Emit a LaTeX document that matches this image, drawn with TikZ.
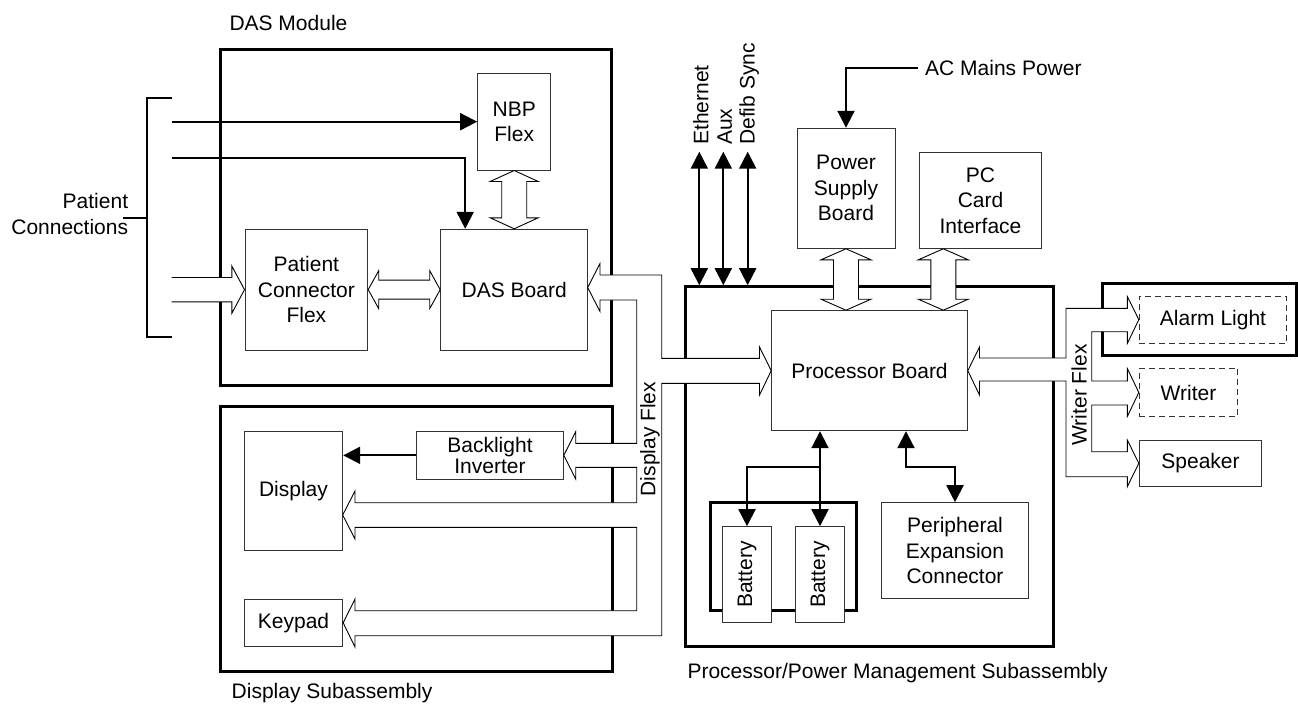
\documentclass[tikz,border=0pt]{standalone}
\usepackage{fontspec}
\setmainfont{Liberation Sans}
\usepackage{graphicx}
\usepackage{tikz}
\usetikzlibrary{arrows.meta,calc}

% hollow flex arrows: (from) (to) head length, head half width, shaft half width
\newcommand{\busv}[5]{\draw[hollow] (#1) -- ([shift={(#4,#3)}]#1) -- ([shift={(#5,#3)}]#1) -- ([shift={(#5,-#3)}]#2) -- ([shift={(#4,-#3)}]#2) -- (#2) -- ([shift={(-#4,-#3)}]#2) -- ([shift={(-#5,-#3)}]#2) -- ([shift={(-#5,#3)}]#1) -- ([shift={(-#4,#3)}]#1) -- cycle;}
\newcommand{\bush}[5]{\draw[hollow] (#1) -- ([shift={(#3,-#4)}]#1) -- ([shift={(#3,-#5)}]#1) -- ([shift={(-#3,-#5)}]#2) -- ([shift={(-#3,-#4)}]#2) -- (#2) -- ([shift={(-#3,#4)}]#2) -- ([shift={(-#3,#5)}]#2) -- ([shift={(#3,#5)}]#1) -- ([shift={(#3,#4)}]#1) -- cycle;}
\newcommand{\busin}[5]{\draw[hollow] ([shift={(0,-#5)}]#1) -- ([shift={(-#3,-#5)}]#2) -- ([shift={(-#3,-#4)}]#2) -- (#2) -- ([shift={(-#3,#4)}]#2) -- ([shift={(-#3,#5)}]#2) -- ([shift={(0,#5)}]#1);}

\begin{document}
\begin{tikzpicture}[x=1pt,y=-1pt,every node/.append style={font=\fontsize{21}{25.5}\selectfont},>={Triangle[length=17pt,width=17pt]}]
		\tikzstyle{block} = [rectangle,draw=black!80,line width=1pt,fill=white,inner sep=0pt,align=center]
		\tikzstyle{frame} = [rectangle,draw=black,line width=3pt,inner sep=0pt]
		\tikzstyle{lbl} = [inner sep=0pt]
		\tikzstyle{link} = [line width=2pt]
		\tikzstyle{hollow} = [draw=black,fill=white,line width=0.9pt]
		
		\useasboundingbox (0,0) rectangle (1298,706);
		
		\node[frame,minimum width=391.7pt,minimum height=335pt] (dasmod) at (415.85,217.5) {};
		\node[frame,minimum width=392pt,minimum height=265.7pt] (dispsub) at (416,538.85) {};
		\node[frame,minimum width=367.6pt,minimum height=360pt] (procsub) at (869.5,466.7) {};
		\node[frame,minimum width=146.7pt,minimum height=108pt] (bathold) at (783.35,556.7) {};
		\node[frame,minimum width=194pt,minimum height=71.7pt] (alarmbox) at (1199.7,319.15) {};
		
		\node[lbl,anchor=west] (dasl) at (229.3,22.7) {DAS Module};
		\node[lbl,anchor=west] (displ) at (231.5,693) {Display Subassembly};
		\node[lbl,anchor=west] (procl) at (687.3,673.3) {Processor/Power Management Subassembly};
		\node[lbl,align=right,anchor=east] (pc) at (128.3,214.2) {Patient\\Connections};
		\node[lbl,anchor=west] (ac) at (925,68.3) {AC Mains Power};
		
		\node[block,minimum width=73pt,minimum height=96pt] (nbp) at (514.2,122) {NBP\\Flex};
		\node[block,minimum width=147pt,minimum height=120.7pt] (das) at (514.2,289.65) {DAS Board};
		\node[block,minimum width=122.7pt,minimum height=120.7pt] (pcf) at (306.35,289.65) {Patient\\Connector\\Flex};
		
		\node[block,minimum width=98.4pt,minimum height=119pt] (disp) at (293.5,491.2) {Display};
		\node[block,minimum width=98.4pt,minimum height=47.7pt] (keypad) at (293.5,622.85) {Keypad};
		\node[block,minimum width=146.6pt,minimum height=47.3pt,font=\fontsize{21}{21}\selectfont] (backlight) at (490,455.35) {Backlight\\Inverter};
		
		\node[block,minimum width=98pt,minimum height=120pt] (psb) at (846,188.3) {Power\\Supply\\Board};
		\node[block,minimum width=122.4pt,minimum height=96pt] (pccard) at (980.5,200.3) {PC\\Card\\Interface};
		\node[block,minimum width=195.6pt,minimum height=120pt] (proc) at (869.5,370.7) {Processor Board};
		\node[block,minimum width=49.4pt,minimum height=96pt] (bat1) at (747,574.7) {\rotatebox{90}{Battery}};
		\node[block,minimum width=49.4pt,minimum height=96pt] (bat2) at (820,574.7) {\rotatebox{90}{Battery}};
		\node[block,minimum width=146.6pt,minimum height=95.6pt] (periph) at (955,550.5) {Peripheral\\Expansion\\Connector};
		
		\node[block,dash pattern=on 6pt off 4pt,minimum width=147.4pt,minimum height=47.3pt] (alarm) at (1213,319.65) {Alarm Light};
		\node[block,dash pattern=on 6pt off 4pt,minimum width=98.4pt,minimum height=48.4pt] (writer) at (1188.5,392.5) {Writer};
		\node[block,minimum width=122.4pt,minimum height=46.7pt] (speaker) at (1200.5,463.35) {Speaker};
		
		% patient side
		\coordinate (pin1) at (171.7,121.7);
		\coordinate (pin2) at (171.7,157.7);
		\coordinate (pin3) at (171.7,289.65);
		\draw[link] (171.7,97.7) -| (146.7,337.3) -- (171.7,337.3);
		\draw[link] (123.3,218.3) -- (146.7,218.3);
		\draw[link,->] (pin1) -- (nbp.west |- pin1);
		\draw[link,->] (pin2) -| ([xshift=25pt]das.north west);
		\busin{pin3}{pcf.west}{12.7}{23.7}{12.2}
		\busv{nbp.south}{das.north}{11}{24}{12.5}
		\bush{pcf.east}{das.west}{10.5}{19}{9.5}
		
		\draw[link,->] (backlight.west) -- (backlight.west -| disp.east);
		
		% display flex
		\draw[hollow] (587.7,287.5) -- (600,263.5) -- (600,275) -- (661.7,275) -- (661.7,358.3) -- (759.5,358.3) -- (759.5,347) -- (proc.west) -- (759.5,395) -- (759.5,383.3) -- (661.7,383.3) -- (661.7,635.7) -- (355,635.7) -- (355,647) -- (keypad.east) -- (355,599) -- (355,610.7) -- (636.7,610.7) -- (636.7,527.3) -- (355,527.3) -- (355,539) -- (342.7,515) -- (355,491) -- (355,502.7) -- (636.7,502.7) -- (636.7,467.3) -- (575.7,467.3) -- (575.7,479) -- (backlight.east) -- (575.7,431.7) -- (575.7,443.3) -- (636.7,443.3) -- (636.7,300) -- (600,300) -- (600,311.5) -- cycle;
		\node[lbl,rotate=90] (dflex) at (650,439) {Display Flex};
		
		% writer flex
		\draw[hollow] (proc.east) -- (979.5,347) -- (979.5,358) -- (1066,358) -- (1066,308.3) -- (1127.3,308.3) -- (1127.3,296.5) -- (alarm.west) -- (1127.3,343.5) -- (1127.3,331.7) -- (1091.7,331.7) -- (1091.7,381) -- (1127.3,381) -- (1127.3,368.5) -- (writer.west) -- (1127.3,416.5) -- (1127.3,405) -- (1091.7,405) -- (1091.7,451.7) -- (1127.3,451.7) -- (1127.3,440) -- (speaker.west) -- (1127.3,486.7) -- (1127.3,476.7) -- (1066,476.7) -- (1066,381) -- (979.5,381) -- (979.5,395) -- cycle;
		\node[lbl,rotate=90] (wflex) at (1079,395) {Writer Flex};
		
		% power and external
		\draw[link,->] ([xshift=-7pt]ac.west) -| (psb.north);
		\coordinate (psbb) at (psb.south |- proc.north);
		\busv{psb.south}{psbb}{11}{25}{12.5}
		\coordinate (pct) at ([xshift=-37.2pt]pccard.south);
		\coordinate (pcb) at (pct |- proc.north);
		\busv{pct}{pcb}{11}{25}{12.5}
		
		\foreach \x/\n/\txt in {699.3/eth/Ethernet,723.3/aux/Aux,747.7/defib/Defib Sync}{
			\coordinate (\n) at (\x,151.7);
			\draw[link,<->] (\n) -- (\n |- procsub.north);
			\node[lbl,rotate=90,anchor=west] (l\n) at (\x+1.5,145) {\txt};
		}
		
		% batteries and expansion
		\coordinate (bj) at (820,467.3);
		\draw[link,<->] (proc.south -| bat2.north) -- (bat2.north);
		\draw[link,->] (bj) -| (bat1.north);
		\draw[link,<->] ([xshift=36.5pt]proc.south) |- ([yshift=35.4pt]periph.north) -- (periph.north);
	\end{tikzpicture}
\end{document}
